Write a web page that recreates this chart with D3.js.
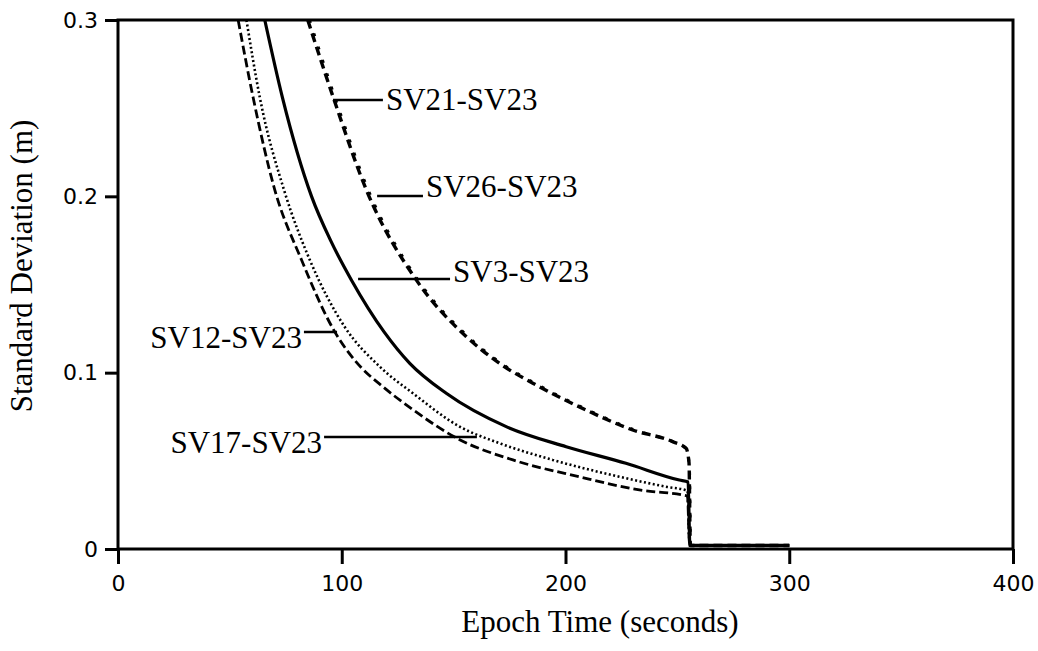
<!DOCTYPE html>
<html>
<head>
<meta charset="utf-8">
<script src="https://cdn.jsdelivr.net/npm/d3@7/dist/d3.min.js"></script>
<style>
  body { margin: 0; background: #fff; }
  svg { display: block; }
  .tick text { font-family: "DejaVu Sans", sans-serif; font-size: 22px; fill: #000; }
  .axis-title, .sv-label { font-family: "Liberation Serif", "Times New Roman", serif; fill: #000; }
</style>
</head>
<body>
<svg id="chart" width="1038" height="651"></svg>
<script>
// epoch time (s) and standard deviation (m)
const sv12Time = [53.7, 60.4, 70, 82, 96.5, 109, 117, 131.8, 152.7, 176.5, 206, 233, 254.5, 255.5, 300];
const sv12Std  = [0.300, 0.256, 0.204, 0.164, 0.124, 0.1025, 0.0935, 0.079, 0.062, 0.0505, 0.041, 0.0335, 0.030, 0.002, 0.002];

const sv17Time = [57.4, 63.4, 74.6, 85.7, 101.3, 117, 131.8, 152.7, 170.5, 194.3, 224, 245, 254.5, 255.5, 300];
const sv17Std  = [0.300, 0.256, 0.202, 0.164, 0.126, 0.1034, 0.0883, 0.0694, 0.060, 0.0505, 0.041, 0.0353, 0.033, 0.002, 0.002];

const sv3Time = [65.6, 73.5, 86.5, 95, 104.3, 119, 130.4, 146.7, 173.5, 200.3, 227, 250.9, 254.8, 255.6, 300];
const sv3Std  = [0.300, 0.256, 0.200, 0.175, 0.1526, 0.123, 0.1053, 0.0883, 0.0694, 0.058, 0.0486, 0.0391, 0.038, 0.002, 0.002];

const sv21Time = [84.8, 96.9, 111, 133.3, 155.7, 170.5, 188.4, 209.2, 230, 247.9, 253.9, 255.2, 255.8, 300];
const sv21Std  = [0.300, 0.2535, 0.2036, 0.1526, 0.1204, 0.1053, 0.092, 0.0788, 0.0675, 0.0609, 0.0571, 0.049, 0.002, 0.002];

const sv26Time = [85.6, 97.6, 111.8, 134, 156.5, 171.3, 189.2, 210, 230.8, 248.4, 254.2, 255.4, 255.9, 300];
const sv26Std  = [0.300, 0.2535, 0.2036, 0.1526, 0.1204, 0.1053, 0.092, 0.0788, 0.0675, 0.0605, 0.0565, 0.045, 0.002, 0.002];

const xTicks = [0, 100, 200, 300, 400];
const yTicks = [0, 0.1, 0.2, 0.3];

const series = [
  { name: "SV12-SV23", t: sv12Time, v: sv12Std, width: 2.8, dash: "9,4" },
  { name: "SV17-SV23", t: sv17Time, v: sv17Std, width: 2.6, dash: "2,2.5" },
  { name: "SV3-SV23",  t: sv3Time,  v: sv3Std,  width: 3.2, dash: null },
  { name: "SV21-SV23", t: sv21Time, v: sv21Std, width: 3.4, dash: "9,5" },
  { name: "SV26-SV23", t: sv26Time, v: sv26Std, width: 3.0, dash: "3,11" }
];

// leader lines: value level, start/end time, text side, baseline shift (px)
const labels = [
  { name: "SV21-SV23", v: 0.2546, t0: 96.1,  t1: 118.4, side: "right", shift: 10 },
  { name: "SV26-SV23", v: 0.2002, t0: 115.8, t1: 136.3, side: "right", shift: 1 },
  { name: "SV3-SV23",  v: 0.1531, t0: 107.3, t1: 148.4, side: "right", shift: 3 },
  { name: "SV12-SV23", v: 0.1231, t0: 83.1,  t1: 97.9,  side: "left",  shift: 16 },
  { name: "SV17-SV23", v: 0.0635, t0: 92.1,  t1: 160.4, side: "left",  shift: 16 }
];

const svg = d3.select("#chart");
const plotLeft = 118, plotRight = 1013, plotTop = 20, plotBottom = 549;

const x = d3.scaleLinear().domain([0, 400]).range([plotLeft, plotRight]);
const y = d3.scaleLinear().domain([0, 0.3]).range([plotBottom, plotTop]);

svg.append("defs").append("clipPath").attr("id", "plot-clip")
  .append("rect")
  .attr("x", plotLeft).attr("y", plotTop - 1)
  .attr("width", plotRight - plotLeft).attr("height", plotBottom - plotTop + 1);

// axes
const xAxis = d3.axisBottom(x).tickValues(xTicks).tickSize(15).tickPadding(11).tickFormat(d3.format("d"));
const yAxis = d3.axisLeft(y).tickValues(yTicks).tickSize(13).tickPadding(7)
  .tickFormat(d => d === 0 ? "0" : d3.format(".1f")(d));

const xg = svg.append("g").attr("transform", `translate(0,${plotBottom})`).call(xAxis);
const yg = svg.append("g").attr("transform", `translate(${plotLeft},0)`).call(yAxis);
[xg, yg].forEach(g => {
  g.select(".domain").remove();
  g.selectAll(".tick line").attr("stroke", "#000").attr("stroke-width", 3);
});

// frame
svg.append("rect")
  .attr("x", plotLeft).attr("y", plotTop)
  .attr("width", plotRight - plotLeft).attr("height", plotBottom - plotTop)
  .attr("fill", "none").attr("stroke", "#000").attr("stroke-width", 3);

// curves
const line = d3.line()
  .x(d => x(d[0]))
  .y(d => y(d[1]))
  .curve(d3.curveMonotoneX);

const plot = svg.append("g").attr("clip-path", "url(#plot-clip)");
series.forEach(s => {
  plot.append("path")
    .datum(s.t.map((t, i) => [t, s.v[i]]))
    .attr("fill", "none")
    .attr("stroke", "#000")
    .attr("stroke-width", s.width)
    .attr("stroke-dasharray", s.dash)
    .attr("stroke-linejoin", "round")
    .attr("d", line);
});

// labels with leader lines
labels.forEach(l => {
  svg.append("line")
    .attr("x1", x(l.t0)).attr("x2", x(l.t1))
    .attr("y1", y(l.v)).attr("y2", y(l.v))
    .attr("stroke", "#000").attr("stroke-width", 2.5);
  svg.append("text")
    .attr("class", "sv-label")
    .attr("x", l.side === "right" ? x(l.t1) + 3 : x(l.t0) - 2)
    .attr("y", y(l.v) + l.shift)
    .attr("text-anchor", l.side === "right" ? "start" : "end")
    .style("font-size", "31px")
    .text(l.name);
});

// axis titles
svg.append("text")
  .attr("class", "axis-title")
  .attr("x", 600).attr("y", 632)
  .attr("text-anchor", "middle")
  .style("font-size", "31px")
  .text("Epoch Time (seconds)");

svg.append("text")
  .attr("class", "axis-title")
  .attr("transform", "translate(32,266) rotate(-90)")
  .attr("text-anchor", "middle")
  .style("font-size", "31px")
  .text("Standard Deviation (m)");
</script>
</body>
</html>
